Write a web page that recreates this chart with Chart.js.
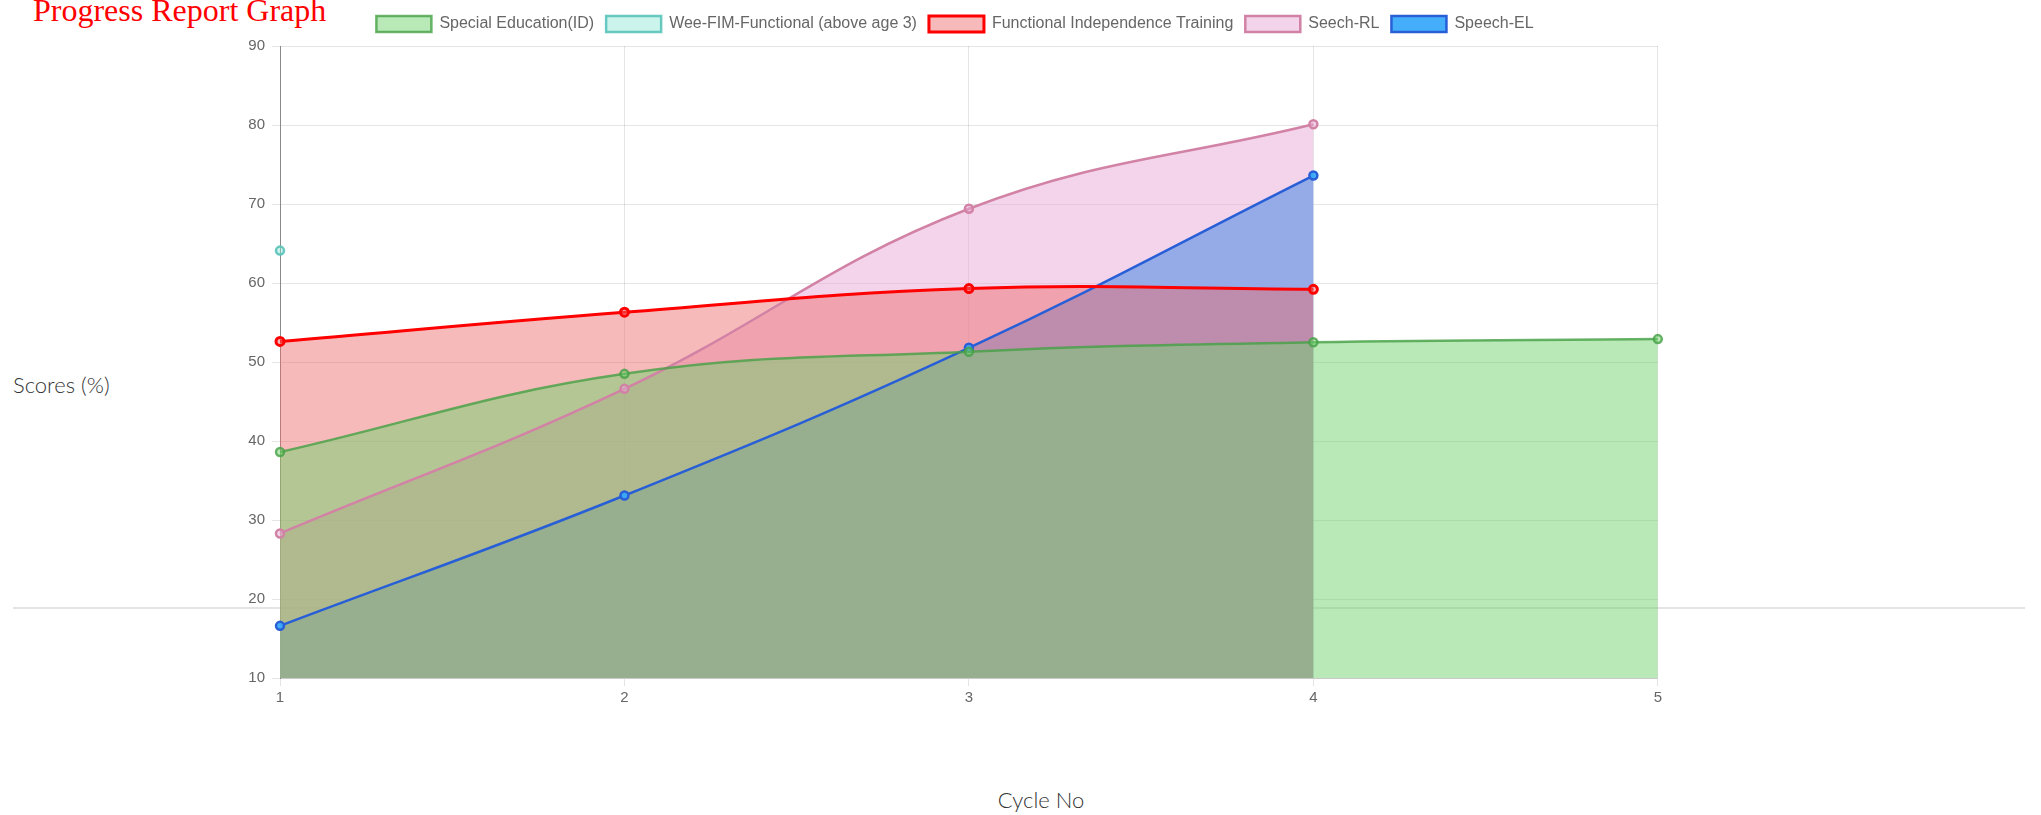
<!DOCTYPE html>
<html>
<head>
<meta charset="utf-8">
<script src="https://cdn.jsdelivr.net/npm/chart.js@4"></script>
<style>
    body { margin: 0; background: #fff; width: 2041px; height: 815px; overflow: hidden; position: relative; }
    .titulo { position: absolute; left: 33px; top: -6px; font-family: "Liberation Serif", serif; font-size: 32px; line-height: 32px; color: #ff0000; white-space: nowrap; }
    .linha { position: absolute; left: 13px; top: 607px; width: 2012px; height: 0; border-top: 2px solid #e4e4e4; }
    .eixo { position: absolute; font-family: Lato, "Open Sans", sans-serif; font-weight: 300; font-size: 22px; line-height: 22px; color: #333; white-space: nowrap; }
    #caixa { position: absolute; left: 245px; top: 0; width: 1420px; height: 710px; }
</style>
</head>
<body>
<div class="titulo">Progress Report Graph</div>
<div class="linha"></div>
<div class="eixo" style="left:13px; top:374px;">Scores (%)</div>
<div class="eixo" style="left:1041px; top:789px; transform: translateX(-50%);">Cycle No</div>
<div id="caixa"><canvas id="progressoGrafico"></canvas></div>

<script>
// CICLOS E NOTAS
const ciclos = ['1', '2', '3', '4', '5'];
const ticks_y = [10, 20, 30, 40, 50, 60, 70, 80, 90];

const specialEdu = [38.6, 48.5, 51.3, 52.5, 52.9];
const weeFim = [64.1, null, null, null, null];
const functionalInd = [52.6, 56.3, 59.3, 59.2, null];
const speechRL = [28.3, 46.6, 69.4, 80.1, null];
const speechEL = [16.6, 33.1, 51.8, 73.6, null];

Chart.defaults.font.family = '"Liberation Sans", Arial, sans-serif';
Chart.defaults.color = '#666';

// ESPACO EXTRA ENTRE A LEGENDA E O GRAFICO
const legendaMargem = {
    id: 'legendaMargem',
    beforeInit(chart) {
        const fitOriginal = chart.legend.fit;
        chart.legend.fit = function () {
            fitOriginal.bind(chart.legend)();
            this.height += 4;
        };
    }
};

const progresso1 = document.getElementById('progressoGrafico');

const data_progresso = {
    labels: ciclos,
    datasets: [{
        label: 'Special Education(ID)',
        data: specialEdu,
        backgroundColor: 'rgba(110,210,108,0.49)',
        borderColor: 'rgba(70,160,70,0.8)',
        borderWidth: 2.5,
        fill: 'origin'
    }, {
        label: 'Wee-FIM-Functional (above age 3)',
        data: weeFim,
        backgroundColor: 'rgba(140,230,215,0.45)',
        borderColor: 'rgba(90,195,185,0.9)',
        borderWidth: 2.5,
        fill: 'origin'
    }, {
        label: 'Functional Independence Training',
        data: functionalInd,
        backgroundColor: 'rgba(238,108,108,0.47)',
        borderColor: 'rgb(255,0,0)',
        borderWidth: 3,
        fill: 'origin'
    }, {
        label: 'Seech-RL',
        data: speechRL,
        backgroundColor: 'rgba(231,169,215,0.5)',
        borderColor: 'rgb(210,130,165)',
        borderWidth: 2.5,
        fill: 'origin'
    }, {
        label: 'Speech-EL',
        data: speechEL,
        backgroundColor: 'rgba(58,170,250,0.95)',
        borderColor: 'rgb(40,95,215)',
        borderWidth: 2.5,
        fill: 'origin'
    }]
};

const progresso_config = {
    type: 'line',
    data: data_progresso,
    plugins: [legendaMargem],
    options: {
        responsive: true,
        maintainAspectRatio: false,
        animation: false,
        layout: {
            padding: { top: 4, left: 0, right: 0, bottom: 0 }
        },
        elements: {
            line: { tension: 0.4 },
            point: { radius: 4, borderWidth: 2 }
        },
        scales: {
            y: {
                min: 10,
                max: 90,
                afterFit: function (scale) { scale.width = 35; },
                afterBuildTicks: function (scale) {
                    scale.ticks = ticks_y.map(v => ({ value: v }));
                },
                grid: { color: 'rgba(0,0,0,0.1)', tickLength: 8 },
                border: { color: 'rgba(0,0,0,0.4)' },
                ticks: {
                    padding: 7,
                    color: '#666',
                    font: { size: 15 }
                }
            },
            x: {
                grid: { color: 'rgba(0,0,0,0.1)', tickLength: 8 },
                border: { color: 'rgba(0,0,0,0.12)' },
                ticks: {
                    padding: 3,
                    color: '#666',
                    font: { size: 15 }
                }
            }
        },
        plugins: {
            filler: { drawTime: 'beforeDatasetsDraw' },
            legend: {
                labels: {
                    boxWidth: 55,
                    boxHeight: 16,
                    padding: 12,
                    color: '#666',
                    font: { size: 16 }
                }
            },
            tooltip: { enabled: false }
        }
    }
};

const grafico_progresso = new Chart(progresso1, progresso_config);
</script>
</body>
</html>
